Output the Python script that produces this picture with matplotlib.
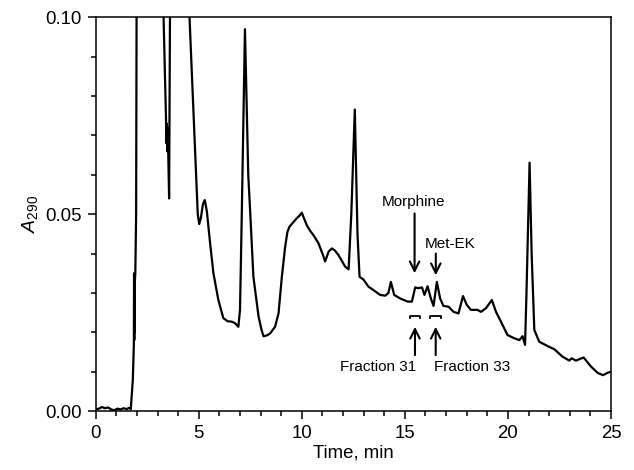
import matplotlib
matplotlib.use('Agg')
import matplotlib.pyplot as plt
from matplotlib.ticker import MultipleLocator

plt.rcParams['font.family'] = ['Liberation Sans', 'DejaVu Sans']
plt.rcParams['mathtext.fontset'] = 'custom'
plt.rcParams['mathtext.rm'] = 'Liberation Sans'
plt.rcParams['mathtext.it'] = 'Liberation Sans:italic'

# chromatogram trace; values above 0.10 run off scale
time_min = [0.00, 0.15, 0.30, 0.45, 0.60, 0.75, 0.90, 1.05, 1.20, 1.35, 1.50, 1.62,
            1.70, 1.80, 1.85, 1.86, 1.87, 1.88, 1.89, 1.90, 1.92, 1.96, 1.99, 2.50,
            3.20, 3.41, 3.43, 3.45, 3.47, 3.50, 3.52, 3.56, 3.62, 4.20, 4.55, 4.95,
            5.02, 5.10, 5.20, 5.29, 5.39, 5.55, 5.71, 5.95, 6.19, 6.40, 6.60, 6.76,
            6.92, 7.00, 7.09, 7.24, 7.40, 7.49, 7.65, 7.90, 8.05, 8.14, 8.30, 8.46,
            8.70, 8.87, 9.03, 9.19, 9.30, 9.40, 9.59, 9.76, 9.90, 10.00, 10.10, 10.24,
            10.40, 10.56, 10.80, 11.00, 11.13, 11.30, 11.46, 11.60, 11.78, 12.10,
            12.27, 12.40, 12.57, 12.70, 12.80, 12.99, 13.23, 13.48, 13.80, 14.05,
            14.20, 14.32, 14.48, 14.77, 15.13, 15.34, 15.50, 15.66, 15.83, 15.95,
            16.10, 16.26, 16.39, 16.55, 16.71, 16.87, 17.12, 17.36, 17.60, 17.82,
            18.00, 18.20, 18.52, 18.69, 18.93, 19.22, 19.42, 19.66, 19.98, 20.30,
            20.55, 20.71, 20.83, 20.90, 21.05, 21.15, 21.28, 21.52, 22.00, 22.25,
            22.65, 22.98, 23.09, 23.30, 23.67, 24.03, 24.35, 24.61, 24.83, 25.00]
absorbance = [0.0004, 0.0006, 0.0010, 0.0007, 0.0009, 0.0004, 0.0002, 0.0006, 0.0004,
              0.0007, 0.0005, 0.0008, 0.0005, 0.0080, 0.0170, 0.0350, 0.0180, 0.0340,
              0.0200, 0.0330, 0.0350, 0.0500, 0.1200, 0.2000, 0.1200, 0.0740, 0.0680,
              0.0730, 0.0660, 0.0720, 0.0650, 0.0540, 0.1200, 0.2000, 0.1000, 0.0500,
              0.0475, 0.0490, 0.0525, 0.0536, 0.0508, 0.0426, 0.0350, 0.0282, 0.0236,
              0.0228, 0.0227, 0.0223, 0.0214, 0.0257, 0.0510, 0.0970, 0.0600, 0.0510,
              0.0341, 0.0240, 0.0205, 0.0190, 0.0192, 0.0197, 0.0214, 0.0248, 0.0341,
              0.0417, 0.0455, 0.0468, 0.0480, 0.0490, 0.0497, 0.0504, 0.0490, 0.0472,
              0.0458, 0.0447, 0.0427, 0.0400, 0.0380, 0.0405, 0.0413, 0.0408, 0.0396,
              0.0367, 0.0360, 0.0500, 0.0766, 0.0450, 0.0341, 0.0334, 0.0316, 0.0307,
              0.0295, 0.0293, 0.0300, 0.0328, 0.0295, 0.0286, 0.0278, 0.0278, 0.0314,
              0.0312, 0.0314, 0.0295, 0.0317, 0.0286, 0.0267, 0.0328, 0.0286, 0.0267,
              0.0265, 0.0252, 0.0248, 0.0292, 0.0270, 0.0257, 0.0257, 0.0252, 0.0261,
              0.0282, 0.0252, 0.0227, 0.0193, 0.0185, 0.0180, 0.0190, 0.0168, 0.0300,
              0.0631, 0.0400, 0.0206, 0.0176, 0.0163, 0.0157, 0.0138, 0.0128, 0.0134,
              0.0128, 0.0136, 0.0113, 0.0097, 0.0091, 0.0097, 0.0100]

# collected fractions (start, end in min)
fraction_names = ['Fraction 31', 'Fraction 33']
fraction_start = [15.24, 16.23]
fraction_end = [15.74, 16.76]

# labelled peaks
peak_names = ['Morphine', 'Met-EK']
peak_times = [15.47, 16.50]

fig = plt.figure(figsize=(6.34, 4.70), dpi=100)
ax = fig.add_axes([0.151, 0.1255, 0.8127, 0.8375])

ax.plot(time_min, absorbance, color='black', lw=1.6, solid_joinstyle='round')

ax.set_xlim(0, 25)
ax.set_ylim(0, 0.10)
ax.xaxis.set_major_locator(MultipleLocator(5))
ax.xaxis.set_minor_locator(MultipleLocator(1))
ax.yaxis.set_major_locator(MultipleLocator(0.05))
ax.yaxis.set_minor_locator(MultipleLocator(0.01))
ax.yaxis.set_major_formatter(plt.FormatStrFormatter('%.2f'))
ax.tick_params(which='major', direction='out', length=6, width=1.1, labelsize=13.4, pad=4)
ax.tick_params(which='minor', direction='out', length=3.5, width=1.1)
ax.tick_params(top=False, right=False)
for s in ax.spines.values():
    s.set_linewidth(1.1)

ax.set_xlabel('Time, min', fontsize=13.4, labelpad=2)
ax.set_ylabel(r'$\mathit{A}_{\mathrm{290}}$', fontsize=14, labelpad=4)

# peak labels with downward arrows
arrow = dict(arrowstyle='->', lw=1.5, color='black', shrinkA=0, shrinkB=0,
             mutation_scale=17)
ax.annotate('', xy=(peak_times[0], 0.0350), xytext=(peak_times[0], 0.0502), arrowprops=arrow)
ax.text(peak_times[0] - 0.05, 0.0532, peak_names[0], ha='center', va='center', fontsize=11)
ax.annotate('', xy=(peak_times[1], 0.0345), xytext=(peak_times[1], 0.0400), arrowprops=arrow)
ax.text(17.19, 0.0424, peak_names[1], ha='center', va='center', fontsize=11)

# fraction brackets, arrows and labels
for i in range(len(fraction_names)):
    x0, x1 = fraction_start[i], fraction_end[i]
    ax.plot([x0, x0, x1, x1], [0.0236, 0.0241, 0.0241, 0.0236], color='black', lw=1.3)
    xm = (x0 + x1) / 2
    ax.annotate('', xy=(xm, 0.0214), xytext=(xm, 0.0142), arrowprops=arrow)
ax.text(15.55, 0.0111, fraction_names[0], ha='right', va='center', fontsize=11)
ax.text(16.39, 0.0111, fraction_names[1], ha='left', va='center', fontsize=11)

fig.savefig('out.png', dpi=100)
